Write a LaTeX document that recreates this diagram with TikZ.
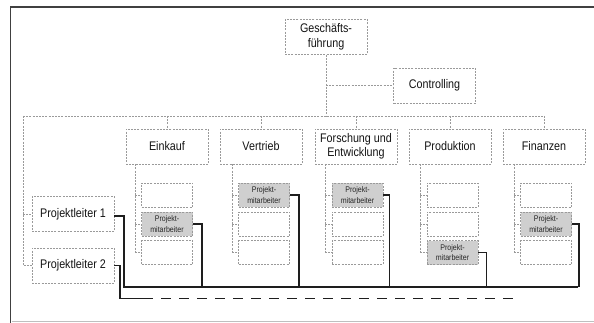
\documentclass[tikz,border=0pt]{standalone}
\usepackage{fontspec}
\setmainfont{Liberation Sans}[FakeStretch=0.86]
\definecolor{boxline}{HTML}{9A9A9A}
\definecolor{pmfill}{HTML}{CFCFCF}
\definecolor{thick}{HTML}{1E1E1E}
\begin{document}
\begin{tikzpicture}[x=1pt,y=-1pt,
  orgline/.style={draw=boxline,line width=0.6pt,dash pattern=on 2pt off 1.2pt},
  box/.style={orgline,minimum width=82pt,minimum height=35pt,inner sep=0pt,align=center,
    font=\fontsize{12.5}{14.5}\selectfont,text=black!92},
  sub/.style={orgline,minimum width=51pt,minimum height=24pt,inner sep=0pt,align=center},
  pm/.style={sub,fill=pmfill,font=\fontsize{8.2}{10.5}\selectfont,text=black!85},
  link/.style={orgline},
  projline/.style={draw=thick,line width=1.4pt},
  projdash/.style={draw=thick,line width=1.4pt,dash pattern=on 10pt off 8pt}
]
\useasboundingbox (0,0) rectangle (594,323);
% frame
\draw[black!75,line width=1.3pt] (10.5,323) -- (10.5,7) -- (594,7);
\draw[black!25,line width=0.8pt] (12,321.5) -- (594,321.5);

% top
\node[box] (gf) at (326,37) {Geschäfts-\\führung};
\node[box] (ctrl) at (434.5,85.5) {Controlling};
\coordinate (bus) at (326,116);
\coordinate (busL) at (23,116);
\coordinate (busR) at (543,116);
\draw[link] (gf.south) -- (bus);
\draw[link] (gf.south |- ctrl.west) -- (ctrl.west);
\draw[link] (busL) -- (busR);

% departments
\node[box] (ein) at (167,146.5) {Einkauf};
\node[box] (ver) at (261,146.5) {Vertrieb};
\node[box] (for) at (356,146.5) {Forschung und\\Entwicklung};
\node[box] (pro) at (450,146.5) {Produktion};
\node[box] (fin) at (544,146.5) {Finanzen};
\foreach \d in {ein,ver,for,pro,fin}{
  \draw[link] (\d.north |- busL) -- (\d.north);
}

% sub boxes
% Einkauf
\node[sub] (e1) at (167,195) {};
\node[pm]  (e2) at (167,224) {Projekt-\\mitarbeiter};
\node[sub] (e3) at (167,252.5) {};
% Vertrieb
\node[pm]  (v1) at (264,195) {Projekt-\\mitarbeiter};
\node[sub] (v2) at (264,224) {};
\node[sub] (v3) at (264,252.5) {};
% Forschung
\node[pm]  (f1) at (357.5,195) {Projekt-\\mitarbeiter};
\node[sub] (f2) at (357.5,224) {};
\node[sub] (f3) at (357.5,252.5) {};
% Produktion
\node[sub] (p1) at (452.5,195) {};
\node[sub] (p2) at (452.5,224) {};
\node[pm]  (p3) at (452.5,252.5) {Projekt-\\mitarbeiter};
% Finanzen
\node[sub] (n1) at (546,195) {};
\node[pm]  (n2) at (546,224) {Projekt-\\mitarbeiter};
\node[sub] (n3) at (546,252.5) {};

\coordinate (ev) at (135,0);
\coordinate (vv) at (232,0);
\coordinate (fv) at (325,0);
\coordinate (pv) at (420,0);
\coordinate (nv) at (514,0);
\foreach \d/\v/\a/\b/\c in {ein/ev/e1/e2/e3, ver/vv/v1/v2/v3, for/fv/f1/f2/f3, pro/pv/p1/p2/p3, fin/nv/n1/n2/n3}{
  \draw[link] (\v |- \d.south) -- (\v |- \c.west);
  \draw[link] (\v |- \a.west) -- (\a.west);
  \draw[link] (\v |- \b.west) -- (\b.west);
  \draw[link] (\v |- \c.west) -- (\c.west);
}

% project leaders
\node[box] (pl1) at (73,214) {Projektleiter 1};
\node[box] (pl2) at (73,265.5) {Projektleiter 2};
\draw[link] (busL) -- (busL |- pl2.west) -- (pl2.west);
\draw[link] (busL |- pl1.west) -- (pl1.west);

% project lines
\coordinate (pbus) at (124,287);
\coordinate (pend) at (578,287);
\draw[projline] ([yshift=-2pt]pl1.east) -| (pbus) -- (pend);
\draw[projline] (e2.east) -- ++(9,0) coordinate (ec) -- (ec |- pbus);
\draw[projline] (v1.east) -- ++(9,0) coordinate (vc) -- (vc |- pbus);
\draw[projline] (f1.east) -- ++(6,0) coordinate (fc) -- (fc |- pbus);
\draw[projline] (p3.east) -- ++(8,0) coordinate (pc) -- (pc |- pbus);
\draw[projline] (n2.east) -- ++(7,0) coordinate (nc) -- (nc |- pbus);

\coordinate (q1) at (120,298.5);
\coordinate (q2) at (153,298.5);
\coordinate (q3) at (161,298.5);
\coordinate (q4) at (518,298.5);
\draw[projline] (pl2.east) -| (q1) -- (q2);
\draw[projdash] (q3) -- (q4);
\end{tikzpicture}
\end{document}
